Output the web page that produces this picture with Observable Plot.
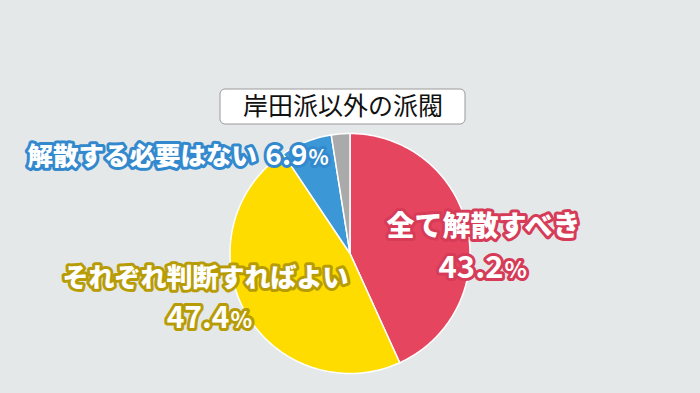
<!DOCTYPE html>
<html><head><meta charset="utf-8">
<script src="https://cdn.jsdelivr.net/npm/d3@7"></script>
<script src="https://cdn.jsdelivr.net/npm/@observablehq/plot@0.6"></script>
<style>
html,body{margin:0;padding:0;background:#e4e8e9;}
#chart{width:700px;height:393px;}
</style></head>
<body><div id="chart"></div>
<script>
const title = "岸田派以外の派閥";
const categories = ["全て解散すべき", "それぞれ判断すればよい", "解散する必要はない", "その他"];
const values = [43.2, 47.4, 6.9, 2.5];
const valueLabels = ["43.2", "47.4", "6.9", ""];
const colors = ["#e5455f", "#fedc00", "#3b97d6", "#aaaaaa"];
const haloColors = ["#d63b57", "#b89c06", "#3389cd", null];

// layout
const W = 700, H = 393, cx = 349.5, cy = 253, R = 120;
const arcs = d3.pie().sort(null).value(d => d)(values);
const pts = [];
arcs.forEach((a, i) => {
  pts.push({i, x: cx, y: cy});
  const n = Math.max(4, Math.ceil((a.endAngle - a.startAngle) * 60));
  for (let k = 0; k <= n; k++) {
    const t = a.startAngle + (a.endAngle - a.startAngle) * k / n;
    pts.push({i, x: cx + R * Math.sin(t), y: cy - R * Math.cos(t)});
  }
});
const F = "Noto Sans CJK JP";
const labelPos = [
  {i: 0, x: 483, y: 227, nx: 503, ny: 268, size: 28, nsize: 31},
  {i: 1, x: 205, y: 278, nx: 229, ny: 318, size: 26, nsize: 30},
  {i: 2, x: 27, y: 156, nx: 307, ny: 156, size: 25.5, nsize: 28, anchor: "start"}
];
const textMarks = [];
labelPos.forEach(p => {
  const common = {fill: "white", stroke: haloColors[p.i], strokeWidth: 6, strokeLinejoin: "round", fontFamily: F};
  textMarks.push(Plot.text([categories[p.i]], {...common, fontWeight: 900, x: () => p.x, y: () => p.y, text: d => d, fontSize: p.size, textAnchor: p.anchor || "middle"}));
  textMarks.push(Plot.text([valueLabels[p.i]], {...common, fontWeight: 700, x: () => p.nx, y: () => p.ny, text: d => d, fontSize: p.nsize, textAnchor: "end"}));
  textMarks.push(Plot.text(["%"], {...common, fontWeight: 700, x: () => p.nx + 1, y: () => p.ny + 2, text: d => d, fontSize: p.nsize * 0.75, textAnchor: "start"}));
});

const chart = Plot.plot({
  width: W, height: H, margin: 0,
  x: {domain: [0, W], range: [0, W], axis: null},
  y: {domain: [0, H], range: [0, H], axis: null},
  color: {type: "identity"},
  style: {background: "#e4e8e9"},
  marks: [
    Plot.line(pts, {x: "x", y: "y", z: "i", fill: d => colors[d.i], stroke: "white", strokeWidth: 1.5, strokeLinejoin: "round", curve: "linear-closed"}),
    Plot.rect([title], {x1: () => 220, x2: () => 465, y1: () => 89, y2: () => 124, fill: "white", stroke: "#9a9a9a", strokeWidth: 1, rx: 5}),
    Plot.text([title], {x: () => 342.5, y: () => 106, text: d => d, fontSize: 25, fill: "#111", fontFamily: F, fontWeight: 400}),
    ...textMarks
  ]
});
document.getElementById("chart").append(chart);
</script>
</body></html>
